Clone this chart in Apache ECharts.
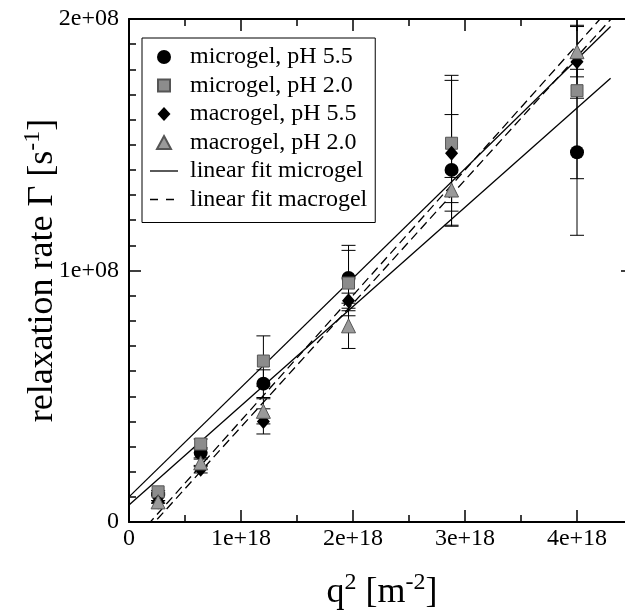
<!DOCTYPE html>
<html>
<head>
<meta charset="utf-8">
<title>relaxation rate vs q2</title>
<script src="https://cdn.jsdelivr.net/npm/echarts@6/dist/echarts.min.js"></script>
<style>
	html, body { margin: 0; padding: 0; background: #fff; overflow: hidden; }
	/* the plot box runs past the right edge of the window, like the cropped original */
	#chart { width: 700px; height: 613px; }
</style>
</head>
<body>
<div id="chart"></div>
<script type="text/javascript">
	// q^2 values of the measured points
	var qSquared = [0.26e18, 0.64e18, 1.2e18, 1.96e18, 2.88e18, 4.0e18];

	// relaxation rates and their errors
	var microgel55 = [1.1e7, 2.75e7, 5.5e7, 9.7e7, 14.0e7, 14.7e7];
	var microgel55Err = [0.05e7, 0.2e7, 0.55e7, 1.3e7, 2.2e7, 3.3e7];
	var microgel20 = [1.2e7, 3.1e7, 6.4e7, 9.5e7, 15.06e7, 17.15e7];
	var microgel20Err = [0.05e7, 0.2e7, 1.0e7, 1.3e7, 2.7e7, 3.5e7];
	var macrogel55 = [0.8e7, 2.1e7, 4.0e7, 8.8e7, 14.66e7, 18.3e7];
	var macrogel55Err = [0.05e7, 0.15e7, 0.5e7, 0.3e7, 2.9e7, 1.45e7];
	var macrogel20 = [0.8e7, 2.35e7, 4.4e7, 7.8e7, 13.2e7, 18.7e7];
	var macrogel20Err = [0.05e7, 0.15e7, 0.5e7, 0.9e7, 0.5e7, 1.0e7];

	// linear fits, end points
	var fitX = [0, 4.3e18];
	var fitMicroA = [1.0e7, 19.7e7];
	var fitMicroB = [0.68e7, 17.64e7];
	var fitMacroA = [-0.946e7, 20.47e7];
	var fitMacroB = [-1.13e7, 19.98e7];

	var xTicks = [0, 1e18, 2e18, 3e18, 4e18];
	var yTicks = [0, 1e8, 2e8];

	var serif = 'Liberation Serif';

	function pairs(xs, ys) {
		var out = [];
		for (var i = 0; i < xs.length; i++) {
			out.push([xs[i], ys[i]]);
		}
		return out;
	}
	function errRows(xs, ys, es) {
		var out = [];
		for (var i = 0; i < xs.length; i++) {
			out.push([xs[i], ys[i] - es[i], ys[i] + es[i]]);
		}
		return out;
	}
	var errData = [].concat(
		errRows(qSquared, microgel55, microgel55Err),
		errRows(qSquared, microgel20, microgel20Err),
		errRows(qSquared, macrogel55, macrogel55Err),
		errRows(qSquared, macrogel20, macrogel20Err)
	);

	function renderErr(params, api) {
		var x = api.value(0);
		var top = api.coord([x, api.value(2)]);
		var bot = api.coord([x, api.value(1)]);
		var w = 7;
		var st = { stroke: '#000', lineWidth: 1 };
		return {
			type: 'group',
			children: [
				{ type: 'line', shape: { x1: top[0], y1: top[1], x2: bot[0], y2: bot[1] }, style: st },
				{ type: 'line', shape: { x1: top[0] - w, y1: top[1], x2: top[0] + w, y2: top[1] }, style: st },
				{ type: 'line', shape: { x1: bot[0] - w, y1: bot[1], x2: bot[0] + w, y2: bot[1] }, style: st }
			]
		};
	}

	function xLabel(v) {
		if (xTicks.indexOf(v) < 0) return '';
		return v === 0 ? '0' : (v / 1e18) + 'e+18';
	}
	function yLabel(v) {
		if (yTicks.indexOf(v) < 0) return '';
		return v === 0 ? '0' : (v / 1e8) + 'e+08';
	}

	var axisLine = { show: true, onZero: false, lineStyle: { color: '#000', width: 2 } };
	var majorTick = { show: true, inside: true, length: 12, lineStyle: { color: '#000', width: 1.5 } };
	var supStyle = { fontFamily: serif, fontSize: 24, lineHeight: 1, verticalAlign: 'top', color: '#000' };

	// legend icons: symbol centred in a 28x14 box so it keeps its shape
	var iconSquare = 'path://M0,0M28,14M8,1L20,1L20,13L8,13Z';
	var iconDiamond = 'path://M0,0M28,14M14,0L20.5,7L14,14L7.5,7Z';
	var iconTriangle = 'path://M0,0M28,14M14,0.5L21,13.5L7,13.5Z';

	var myChart = echarts.init(document.getElementById('chart'), null, { renderer: 'canvas' });

	var option = {
		animation: false,
		backgroundColor: '#fff',
		grid: { left: 129, right: 11, top: 19, bottom: 91, containLabel: false, outerBoundsMode: 'none' },
		legend: {
			orient: 'vertical',
			left: 142,
			top: 38,
			padding: [7, 8, 11, 7],
			borderColor: '#000',
			borderWidth: 1,
			backgroundColor: '#fff',
			itemWidth: 28,
			itemHeight: 14,
			itemGap: 4.5,
			selectedMode: false,
			textStyle: { fontFamily: serif, fontSize: 24, lineHeight: 24, color: '#000', padding: [0, 0, 0, 7] },
			data: [
				{ name: 'microgel, pH 5.5', icon: 'circle' },
				{ name: 'microgel, pH 2.0', icon: iconSquare },
				{ name: 'macrogel, pH 5.5', icon: iconDiamond },
				{ name: 'macrogel, pH 2.0', icon: iconTriangle },
				{ name: 'linear fit microgel', itemStyle: { opacity: 0 }, lineStyle: { type: 'solid', color: '#000', width: 1.3 } },
				{ name: 'linear fit macrogel', itemStyle: { opacity: 0 }, lineStyle: { type: [8, 8], color: '#000', width: 1.3 } }]
		},
		xAxis: [{
			type: 'value',
			position: 'bottom',
			min: 0,
			max: 5e18,
			interval: 1e18,
			name: 'q{sup|2} [m{sup|-2}]',
			nameLocation: 'middle',
			nameGap: 49,
			nameMoveOverlap: false,
			// the axis runs off the window, so pull the title back over the visible part
			nameTextStyle: {
				fontFamily: serif, fontSize: 36, lineHeight: 44, color: '#000',
				padding: [0, 54, 0, 0], rich: { sup: supStyle }
			},
			axisLine: axisLine,
			axisTick: majorTick,
			minorTick: { show: true, splitNumber: 2, length: 7, lineStyle: { color: '#000', width: 1.5 } },
			splitLine: { show: false },
			axisLabel: { formatter: xLabel, fontFamily: serif, fontSize: 24, color: '#000', margin: 5 }
		}, {
			type: 'value',
			position: 'top',
			min: 0,
			max: 5e18,
			interval: 1e18,
			axisLine: axisLine,
			axisTick: majorTick,
			minorTick: { show: true, splitNumber: 2, length: 7, lineStyle: { color: '#000', width: 1.5 } },
			splitLine: { show: false },
			axisLabel: { show: false }
		}],
		yAxis: [{
			type: 'value',
			position: 'left',
			min: 0,
			max: 2e8,
			interval: 1e8,
			name: 'relaxation rate Γ [s{sup|-1}]',
			nameLocation: 'middle',
			nameGap: 64,
			nameMoveOverlap: false,
			nameTextStyle: { fontFamily: serif, fontSize: 36, lineHeight: 44, color: '#000', rich: { sup: supStyle } },
			axisLine: axisLine,
			axisTick: majorTick,
			minorTick: { show: true, splitNumber: 10, length: 7, lineStyle: { color: '#000', width: 1.5 } },
			splitLine: { show: false },
			axisLabel: { formatter: yLabel, fontFamily: serif, fontSize: 24, color: '#000', margin: 10 }
		}, {
			type: 'value',
			position: 'right',
			offset: -56,
			min: 0,
			max: 2e8,
			interval: 1e8,
			axisLine: axisLine,
			axisTick: majorTick,
			minorTick: { show: true, splitNumber: 10, length: 7, lineStyle: { color: '#000', width: 1.5 } },
			splitLine: { show: false },
			axisLabel: { show: false }
		}],
		series: [{
			type: 'custom',
			renderItem: renderErr,
			data: errData,
			encode: { x: 0, y: [1, 2] },
			clip: true,
			z: 1,
			silent: true
		}, {
			name: 'linear fit microgel',
			type: 'line',
			data: pairs(fitX, fitMicroA),
			symbol: 'none',
			clip: true,
			itemStyle: { color: '#000' },
			lineStyle: { color: '#000', width: 1.3, type: 'solid' },
			z: 2
		}, {
			name: 'linear fit microgel',
			type: 'line',
			data: pairs(fitX, fitMicroB),
			symbol: 'none',
			clip: true,
			itemStyle: { color: '#000' },
			lineStyle: { color: '#000', width: 1.3, type: 'solid' },
			z: 2
		}, {
			name: 'linear fit macrogel',
			type: 'line',
			data: pairs(fitX, fitMacroA),
			symbol: 'none',
			clip: true,
			itemStyle: { color: '#000' },
			lineStyle: { color: '#000', width: 1.3, type: [9, 5] },
			z: 2
		}, {
			name: 'linear fit macrogel',
			type: 'line',
			data: pairs(fitX, fitMacroB),
			symbol: 'none',
			clip: true,
			itemStyle: { color: '#000' },
			lineStyle: { color: '#000', width: 1.3, type: [9, 5] },
			z: 2
		}, {
			name: 'microgel, pH 5.5',
			type: 'scatter',
			data: pairs(qSquared, microgel55),
			symbol: 'circle',
			symbolSize: 14,
			itemStyle: { color: '#000', opacity: 1 },
			z: 3
		}, {
			name: 'microgel, pH 2.0',
			type: 'scatter',
			data: pairs(qSquared, microgel20),
			symbol: 'rect',
			symbolSize: 12,
			itemStyle: { color: '#8c8c8c', borderColor: '#555', borderWidth: 1, opacity: 1 },
			z: 3
		}, {
			name: 'macrogel, pH 5.5',
			type: 'scatter',
			data: pairs(qSquared, macrogel55),
			symbol: 'diamond',
			symbolSize: [13, 15],
			itemStyle: { color: '#000', opacity: 1 },
			z: 3
		}, {
			name: 'macrogel, pH 2.0',
			type: 'scatter',
			data: pairs(qSquared, macrogel20),
			symbol: 'triangle',
			symbolSize: 14,
			itemStyle: { color: '#9a9a9a', borderColor: '#555', borderWidth: 1, opacity: 1 },
			z: 3
		}]
	};
	myChart.setOption(option);
</script>
</body>
</html>
